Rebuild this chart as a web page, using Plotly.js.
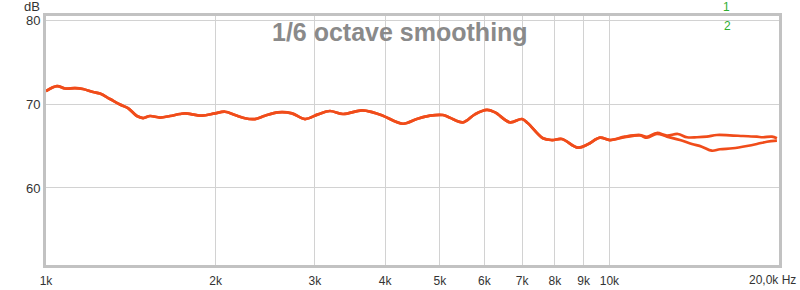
<!DOCTYPE html>
<html>
<head>
<meta charset="utf-8">
<script src="https://cdn.plot.ly/plotly-3.0.1.min.js"></script>
<style>html,body{margin:0;padding:0;background:#fff;}#chart{width:800px;height:290px;}</style>
</head>
<body>
<div id="chart"></div>
<script>
// Frequencies (Hz) and levels (dB)
const freq1 = [1000,1046,1081,1126,1163,1212,1247,1299,1353,1398,1450,1487,1530,1594,1660,1729,1765,1891,1995,2078,2165,2255,2349,2447,2580,2733,2882,3039,3191,3366,3638,3804,3963,4300,4553,4803,5064,5212,5495,5771,6061,6263,6660,6995,7169,7621,7907,8237,8794,9158,9619,10020,10650,11330,11660,12140,12650,13230,13730,14300,14890,15510,16360,17260,18270,18730,19430,19830];
const level1 = [71.55,72.14,71.85,71.9,71.79,71.43,71.25,70.6,69.94,69.52,68.57,68.33,68.57,68.39,68.57,68.81,68.89,68.61,68.89,69.08,68.69,68.30,68.21,68.61,69.01,68.89,68.21,68.77,69.17,68.81,69.25,69.01,68.61,67.65,68.21,68.61,68.69,68.37,67.82,68.77,69.29,69.01,67.82,68.21,67.70,65.92,65.71,65.83,64.80,65.20,65.99,65.71,66.11,66.31,66.10,66.55,66.25,66.43,66.04,66.04,66.11,66.31,66.27,66.19,66.11,66.04,66.11,65.92];
const freq2 = [1000,1046,1081,1126,1163,1212,1247,1299,1353,1398,1450,1487,1530,1594,1660,1729,1765,1891,1995,2078,2165,2255,2349,2447,2580,2733,2882,3039,3191,3366,3638,3804,3963,4300,4553,4803,5064,5212,5495,5771,6061,6263,6660,6995,7169,7621,7907,8237,8794,9158,9619,10020,10650,11330,11660,12140,12650,13340,14010,14590,15200,15710,16560,17540,18270,19030,19830];
const level2 = [71.55,72.14,71.85,71.9,71.79,71.43,71.25,70.6,69.94,69.52,68.57,68.33,68.57,68.39,68.57,68.81,68.89,68.61,68.89,69.08,68.69,68.30,68.21,68.61,69.01,68.89,68.21,68.77,69.17,68.81,69.25,69.01,68.61,67.65,68.21,68.61,68.69,68.37,67.82,68.77,69.29,69.01,67.82,68.21,67.70,65.92,65.71,65.83,64.80,65.20,65.99,65.71,66.05,66.25,65.98,66.45,66.12,65.71,65.24,64.92,64.44,64.61,64.73,65.00,65.24,65.51,65.63];
const xTickVals = [1000,2000,3000,4000,5000,6000,7000,8000,9000,10000];
const xTickText = ["1k","2k","3k","4k","5k","6k","7k","8k","9k","10k"];
const yTickVals = [60,70,80];
const seriesNames = ["1","2"];

const lineColor = '#f04c1a';
const traces = [
  {x: freq1, y: level1, name: seriesNames[0], mode: 'lines', line: {color: lineColor, width: 2.7, shape: 'spline', smoothing: 1}},
  {x: freq2, y: level2, name: seriesNames[1], mode: 'lines', line: {color: lineColor, width: 2.7, shape: 'spline', smoothing: 1}}
];

const layout = {
  width: 800, height: 290,
  margin: {l: 46, r: 21, t: 16, b: 25},
  paper_bgcolor: '#ffffff', plot_bgcolor: '#ffffff',
  showlegend: false,
  font: {family: 'Liberation Sans, Arial, sans-serif', color: '#333333'},
  xaxis: {
    type: 'log', range: [3, Math.log10(20000)],
    tickvals: xTickVals, ticktext: xTickText,
    showgrid: true, gridcolor: '#d2d2d2', gridwidth: 1,
    showline: true, linecolor: '#c2c2c2', linewidth: 3, mirror: true,
    ticks: '', ticklabelstandoff: 3, tickfont: {size: 12, color: '#333333'},
    zeroline: false, fixedrange: true
  },
  yaxis: {
    range: [50.83, 80.48],
    tickvals: yTickVals,
    showgrid: true, gridcolor: '#d2d2d2', gridwidth: 1,
    showline: true, linecolor: '#c2c2c2', linewidth: 3, mirror: true,
    ticks: '', tickfont: {size: 13, color: '#333333'},
    zeroline: false, fixedrange: true
  },
  annotations: [
    {text: '1/6 octave smoothing', xref: 'paper', yref: 'paper', x: 0.483, y: 0.936, xanchor: 'center', yanchor: 'middle', showarrow: false, font: {size: 25, color: '#8a8a8a', family: 'Liberation Sans, Arial, sans-serif', weight: 'bold'}},
    {text: 'dB', xref: 'paper', yref: 'paper', x: -0.005, y: 1.0, xanchor: 'right', yanchor: 'bottom', showarrow: false, font: {size: 13, color: '#333333'}},
    {text: '20,0k Hz', xref: 'paper', yref: 'paper', x: 1.026, y: 0, xanchor: 'right', yanchor: 'top', yshift: -6, showarrow: false, font: {size: 12, color: '#333333'}},
    {text: seriesNames[0], xref: 'paper', yref: 'paper', x: 0.928, y: 1.036, xanchor: 'center', yanchor: 'middle', showarrow: false, font: {size: 12, color: '#2fae2f'}},
    {text: seriesNames[1], xref: 'paper', yref: 'paper', x: 0.930, y: 0.960, xanchor: 'center', yanchor: 'middle', showarrow: false, font: {size: 12, color: '#2fae2f'}}
  ]
};

Plotly.newPlot('chart', traces, layout, {displayModeBar: false, staticPlot: true});
</script>
</body>
</html>
